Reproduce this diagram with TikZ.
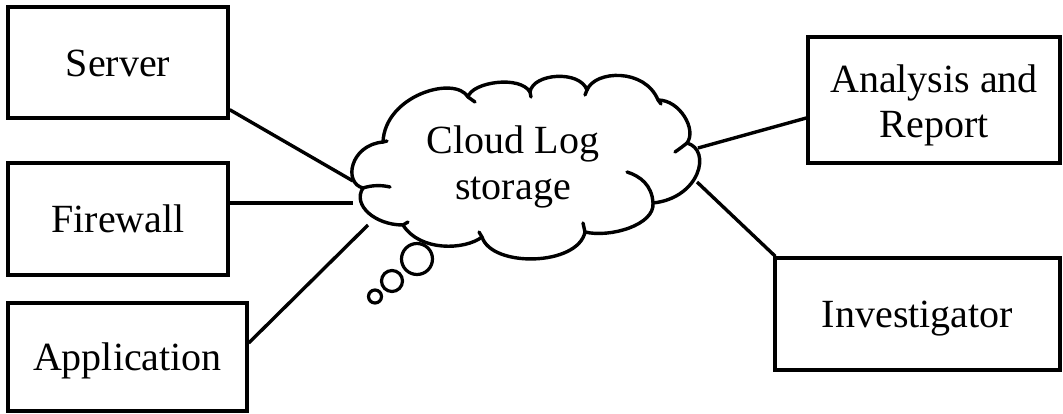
\documentclass[tikz,border=0pt]{standalone}
\usepackage{fontspec}
\setmainfont{Liberation Serif}
\usetikzlibrary{calc}
\tikzset{
  stroke/.style={line width=3.4pt, line cap=round, line join=round},
  box/.style={draw, line width=3.4pt, inner sep=0pt, text height=27pt, text depth=0pt,
              font=\fontsize{40}{45}\selectfont},
  label/.style={inner sep=0pt, anchor=base, font=\fontsize{40}{45}\selectfont},
  link/.style={line width=3.4pt},
}
\begin{document}
\begin{tikzpicture}[x=1pt, y=-1pt]
\useasboundingbox (0,0) rectangle (1063,413);

% sources on the left
\node[box, minimum width=220pt, minimum height=111pt] (srv) at (118,62.5) {Server};
\node[box, minimum width=220pt, minimum height=112pt] (fw)  at (118,219) {Firewall};
\node[box, minimum width=239pt, minimum height=108pt] (app) at (127.5,357) {Application};

% consumers on the right
\node[box, minimum width=252pt, minimum height=126pt] (ana) at (934,100) {};
\node[label] (anaA) at (934,92)  {Analysis and};
\node[label] (anaB) at (934,137) {Report};
\node[box, minimum width=285pt, minimum height=112pt] (inv) at (917.5,314) {Investigator};

% thought bubbles under the cloud
\draw[stroke, line width=3.2pt] (417,259) circle[radius=15.5];
\draw[stroke, line width=3.2pt] (392,281) circle[radius=10.5];
\draw[stroke, line width=3.2pt] (375,296.5) circle[radius=6.5];

% cloud outline
\draw[stroke, fill=white] (383,142)
  .. controls (385,95) and (455,75) .. (468,97)
  .. controls (472,82) and (520,75) .. (530,92)
  .. controls (533,73) and (580,70) .. (587,90)
  .. controls (595,70) and (645,68) .. (658,100)
  .. controls (680,100) and (697,130) .. (687,143)
  .. controls (712,150) and (700,198) .. (653,203)
  .. controls (655,225) and (610,238) .. (585,232)
  .. controls (578,266) and (492,268) .. (482,237)
  .. controls (465,250) and (420,252) .. (403,225)
  .. controls (375,225) and (352,205) .. (363,188)
  .. controls (343,183) and (350,145) .. (383,142) -- cycle;

% inner ends of the puffs
\draw[stroke] (383,142) -- (387,141);
\draw[stroke] (468,97) .. controls (471,99) .. (475,102);
\draw[stroke] (530,92) -- (531,97);
\draw[stroke] (587,90) -- (585,95);
\draw[stroke] (658,100) -- (661,104);
\draw[stroke] (687,143) .. controls (682,147) .. (675,152);
\draw[stroke] (653,203) .. controls (652,185) and (640,176) .. (627,172);
\draw[stroke] (585,232) .. controls (584,228) .. (583,223);
\draw[stroke] (482,237) -- (479,232);
\draw[stroke] (403,225) -- (408,222);
\draw[stroke] (363,188) .. controls (372,185) and (382,185) .. (390,187);

\node[label] (cloudA) at (513,153) {Cloud Log};
\node[label] (cloudB) at (513,199) {storage};

% where the links meet the cloud
\coordinate (cl-srv) at (353,181);
\coordinate (cl-fw)  at (353,203);
\coordinate (cl-app) at (368,225);
\coordinate (cl-ana) at (698,148);
\coordinate (cl-inv) at (697,182);

\draw[link] ($(srv.south east)+(0,-10)$) -- (cl-srv);
\draw[link] ($(fw.east)+(0,-16)$) -- (cl-fw);
\draw[link] ($(app.east)+(0,-14)$) -- (cl-app);
\draw[link] (cl-ana) -- ($(ana.west)+(0,18)$);
\draw[link] (cl-inv) -- ($(inv.north west)+(2,0)$);
\end{tikzpicture}
\end{document}
